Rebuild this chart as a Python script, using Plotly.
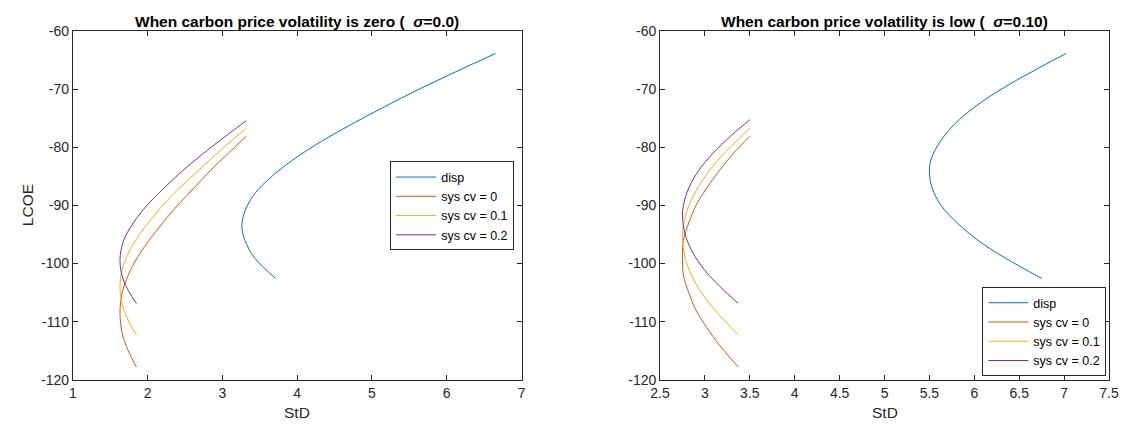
import plotly.graph_objects as go

# ---------------- data ----------------
# Left panel: carbon price volatility zero
L_disp_y = [-63.86, -67, -70, -73, -76, -79, -82, -85, -88, -91, -93.5, -96, -99, -102.55]
L_disp_x = [6.65, 6.12, 5.63, 5.17, 4.73, 4.32, 3.96, 3.66, 3.43, 3.30, 3.26, 3.30, 3.43, 3.71]

L_cv0_y = [-78.1, -81, -84, -87, -90, -93, -96, -99, -102, -105, -108.5, -112, -115, -117.8]
L_cv0_x = [3.32, 3.08, 2.84, 2.62, 2.40, 2.20, 2.02, 1.86, 1.74, 1.66, 1.63, 1.66, 1.74, 1.85]

L_cv1_y = [-76.7, -80, -83, -86, -89, -92, -95, -98, -101, -104, -107, -110, -112.3]
L_cv1_x = [3.32, 3.02, 2.76, 2.51, 2.27, 2.07, 1.89, 1.75, 1.66, 1.63, 1.66, 1.75, 1.85]

L_cv2_y = [-75.4, -78, -81, -84, -87, -90, -93, -96, -99.5, -103, -106.9]
L_cv2_x = [3.32, 3.05, 2.75, 2.47, 2.22, 1.99, 1.81, 1.68, 1.63, 1.68, 1.85]

# Right panel: carbon price volatility low (sigma = 0.10)
R_disp_y = [-63.86, -67, -70, -73, -76, -79, -82, -84.3, -87, -90, -93, -96, -99, -102.55]
R_disp_x = [7.02, 6.64, 6.30, 6.01, 5.78, 5.62, 5.52, 5.50, 5.53, 5.63, 5.81, 6.04, 6.34, 6.75]

R_cv0_y = [-78.1, -81, -84, -87, -90, -93, -96, -99, -102, -105, -108, -111, -114, -117.8]
R_cv0_x = [3.50, 3.32, 3.16, 3.02, 2.90, 2.82, 2.76, 2.75, 2.76, 2.82, 2.90, 3.02, 3.16, 3.37]

R_cv1_y = [-76.7, -80, -83, -86, -89, -92, -95.4, -99, -102, -105, -108, -112.26]
R_cv1_x = [3.50, 3.28, 3.10, 2.96, 2.85, 2.78, 2.75, 2.78, 2.85, 2.96, 3.11, 3.37]

R_cv2_y = [-75.25, -78, -81, -84, -87, -90, -92, -95, -98, -101, -104, -106.85]
R_cv2_x = [3.50, 3.29, 3.09, 2.93, 2.82, 2.76, 2.75, 2.78, 2.86, 2.99, 3.17, 3.37]

series_names = ["disp", "sys cv = 0", "sys cv = 0.1", "sys cv = 0.2"]
series_colors = ["#0072BD", "#D95319", "#EDB120", "#7E2F8E"]

y_ticks = [-120, -110, -100, -90, -80, -70, -60]
y_ticktext = ["-120", "-110", "-100", "-90", "-80", "-70", "-60"]
left_x_ticks = [1, 2, 3, 4, 5, 6, 7]
right_x_ticks = [2.5, 3, 3.5, 4, 4.5, 5, 5.5, 6, 6.5, 7, 7.5]

titles = ["<b>When carbon price volatility is zero (  <i>σ</i>=0.0)</b>",
          "<b>When carbon price volatility is low (  <i>σ</i>=0.10)</b>"]

# ---------------- figure ----------------
FONT = "Liberation Sans, Arial, Helvetica, sans-serif"
AX = "#262626"
W, H = 1136, 434

fig = go.Figure()

left = [(L_disp_x, L_disp_y), (L_cv0_x, L_cv0_y), (L_cv1_x, L_cv1_y), (L_cv2_x, L_cv2_y)]
right = [(R_disp_x, R_disp_y), (R_cv0_x, R_cv0_y), (R_cv1_x, R_cv1_y), (R_cv2_x, R_cv2_y)]

for (xs, ys), name, col in zip(left, series_names, series_colors):
    fig.add_trace(go.Scatter(x=xs, y=ys, mode="lines", name=name,
                             line=dict(color=col, width=1, shape="spline", smoothing=1.0),
                             xaxis="x", yaxis="y", legend="legend"))
for (xs, ys), name, col in zip(right, series_names, series_colors):
    fig.add_trace(go.Scatter(x=xs, y=ys, mode="lines", name=name,
                             line=dict(color=col, width=1, shape="spline", smoothing=1.0),
                             xaxis="x2", yaxis="y2", legend="legend2"))

def px_x(p):
    return p / W

def px_y(p):
    return 1 - p / H

axis_common = dict(showline=True, linecolor=AX, linewidth=1, mirror="ticks",
                   ticks="inside", ticklen=5, tickcolor=AX, tickwidth=1,
                   showgrid=False, zeroline=False,
                   tickfont=dict(family=FONT, size=14, color=AX))

fig.update_layout(
    width=W, height=H, autosize=False,
    margin=dict(l=0, r=0, t=0, b=0),
    paper_bgcolor="white", plot_bgcolor="white",
    xaxis=dict(domain=[px_x(64), px_x(520.7)], range=[1, 7], tickmode="array",
               tickvals=left_x_ticks, anchor="y", **axis_common),
    yaxis=dict(domain=[px_y(386), px_y(24)], range=[-120, -60], tickmode="array",
               tickvals=y_ticks, ticktext=y_ticktext, anchor="x", **axis_common),
    xaxis2=dict(domain=[px_x(661.7), px_x(1118.7)], range=[2.5, 7.5], tickmode="array",
                tickvals=right_x_ticks, anchor="y2", **axis_common),
    yaxis2=dict(domain=[px_y(386), px_y(24)], range=[-120, -60], tickmode="array",
                tickvals=y_ticks, ticktext=y_ticktext, anchor="x2", **axis_common),
    legend=dict(x=px_x(387), y=px_y(205.5), xanchor="left", yanchor="middle",
                bgcolor="white", bordercolor=AX, borderwidth=1,
                font=dict(family=FONT, size=12.5, color="black"),
                tracegroupgap=0, itemwidth=40),
    legend2=dict(x=px_x(1116), y=px_y(336), xanchor="right", yanchor="middle",
                 bgcolor="white", bordercolor=AX, borderwidth=1,
                 font=dict(family=FONT, size=12.5, color="black"),
                 tracegroupgap=0, itemwidth=40),
    showlegend=True,
)

annotations = [
    dict(text=titles[0], x=px_x(292.4), y=px_y(14), xref="paper", yref="paper",
         xanchor="center", yanchor="middle", showarrow=False,
         font=dict(family=FONT, size=15.5, color="black")),
    dict(text=titles[1], x=px_x(890.2), y=px_y(14), xref="paper", yref="paper",
         xanchor="center", yanchor="middle", showarrow=False,
         font=dict(family=FONT, size=15.5, color="black")),
    dict(text="StD", x=px_x(292.4), y=px_y(420), xref="paper", yref="paper",
         xanchor="center", yanchor="middle", showarrow=False,
         font=dict(family=FONT, size=15.5, color=AX)),
    dict(text="StD", x=px_x(890.2), y=px_y(420), xref="paper", yref="paper",
         xanchor="center", yanchor="middle", showarrow=False,
         font=dict(family=FONT, size=15.5, color=AX)),
    dict(text="LCOE", x=px_x(18), y=px_y(205), xref="paper", yref="paper",
         xanchor="center", yanchor="middle", showarrow=False, textangle=-90,
         font=dict(family=FONT, size=15.5, color=AX)),
]
fig.update_layout(annotations=annotations)

fig.write_html("out.html")
